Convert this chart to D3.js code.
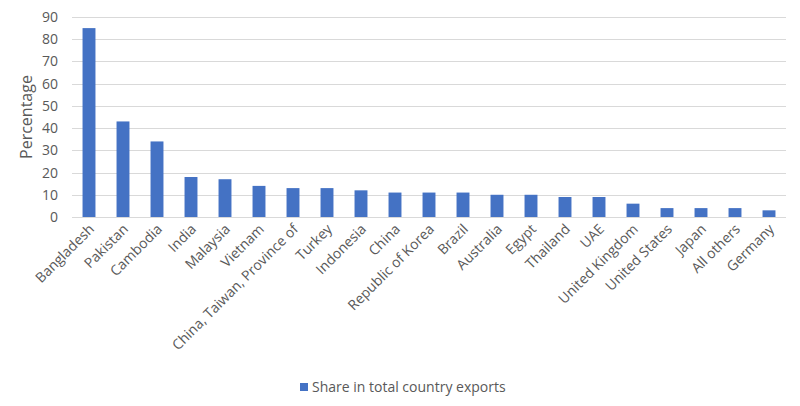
<!DOCTYPE html>
<html>
<head>
<meta charset="utf-8">
<script src="https://cdn.jsdelivr.net/npm/d3@7"></script>
<style>
  body { margin: 0; background: #fff; }
  text { font-family: "Open Sans", "Noto Sans", sans-serif; fill: #595959; }
</style>
</head>
<body>
<div id="chart"></div>
<script>
const countries = ["Bangladesh", "Pakistan", "Cambodia", "India", "Malaysia", "Vietnam",
    "China, Taiwan, Province of", "Turkey", "Indonesia", "China", "Republic of Korea", "Brazil",
    "Australia", "Egypt", "Thailand", "UAE", "United Kingdom", "United States", "Japan",
    "All others", "Germany"];
const shares = [85, 43, 34, 18, 17, 14, 13, 13, 12, 11, 11, 11, 10, 10, 9, 9, 6, 4, 4, 4, 3];
const yTicks = [0, 10, 20, 30, 40, 50, 60, 70, 80, 90];
const seriesName = "Share in total country exports";

const width = 800, height = 406;
const margin = {top: 17, right: 14, bottom: 189, left: 72};

let svg = d3.select('#chart')
    .append('svg')
    .attr('width', width)
    .attr('height', height);

let x = d3.scaleBand()
    .domain(countries)
    .range([margin.left, width - margin.right])
    .paddingInner(0.62)
    .paddingOuter(0.31);

let y = d3.scaleLinear()
    .domain([0, 90])
    .range([height - margin.bottom, margin.top]);

// gridlines
svg.append("g")
    .selectAll("line")
    .data(yTicks)
    .enter().append("line")
    .attr("x1", margin.left)
    .attr("x2", width - margin.right)
    .attr("y1", d => Math.round(y(d)) + 0.5)
    .attr("y2", d => Math.round(y(d)) + 0.5)
    .style("stroke", "#d9d9d9")
    .style("stroke-width", 1);

// y tick labels
let yAxis = svg.append("g")
    .attr("transform", `translate(${margin.left},0)`)
    .call(d3.axisLeft(y).tickValues(yTicks).tickSize(0).tickPadding(14));
yAxis.select(".domain").remove();
yAxis.selectAll("text")
    .style("font-size", "14px")
    .style("fill", "#595959");

// bars
svg.append("g")
    .selectAll("rect")
    .data(shares)
    .enter().append("rect")
    .attr("x", (d, i) => x(countries[i]))
    .attr("y", d => y(d))
    .attr("width", x.bandwidth())
    .attr("height", d => y(0) - y(d))
    .style("fill", "#4472C4");

// x labels
let xAxis = svg.append("g")
    .attr("transform", `translate(0,${y(0)})`)
    .call(d3.axisBottom(x).tickSize(0).tickPadding(0));
xAxis.select(".domain").remove();
xAxis.selectAll("text")
    .style("font-size", "14px")
    .style("fill", "#595959")
    .attr("text-anchor", "end")
    .attr("dy", null)
    .attr("transform", "translate(6,13) rotate(-45)");

// y axis title
svg.append("text")
    .attr("transform", `translate(32,${(y(0) + y(90)) / 2}) rotate(-90)`)
    .attr("text-anchor", "middle")
    .style("font-size", "16px")
    .text("Percentage");

// legend
let legend = svg.append("g").attr("transform", "translate(300,383)");
legend.append("rect")
    .attr("width", 8)
    .attr("height", 8)
    .style("fill", "#4472C4");
legend.append("text")
    .attr("x", 12)
    .attr("y", 8.5)
    .style("font-size", "14px")
    .text(seriesName);
</script>
</body>
</html>
